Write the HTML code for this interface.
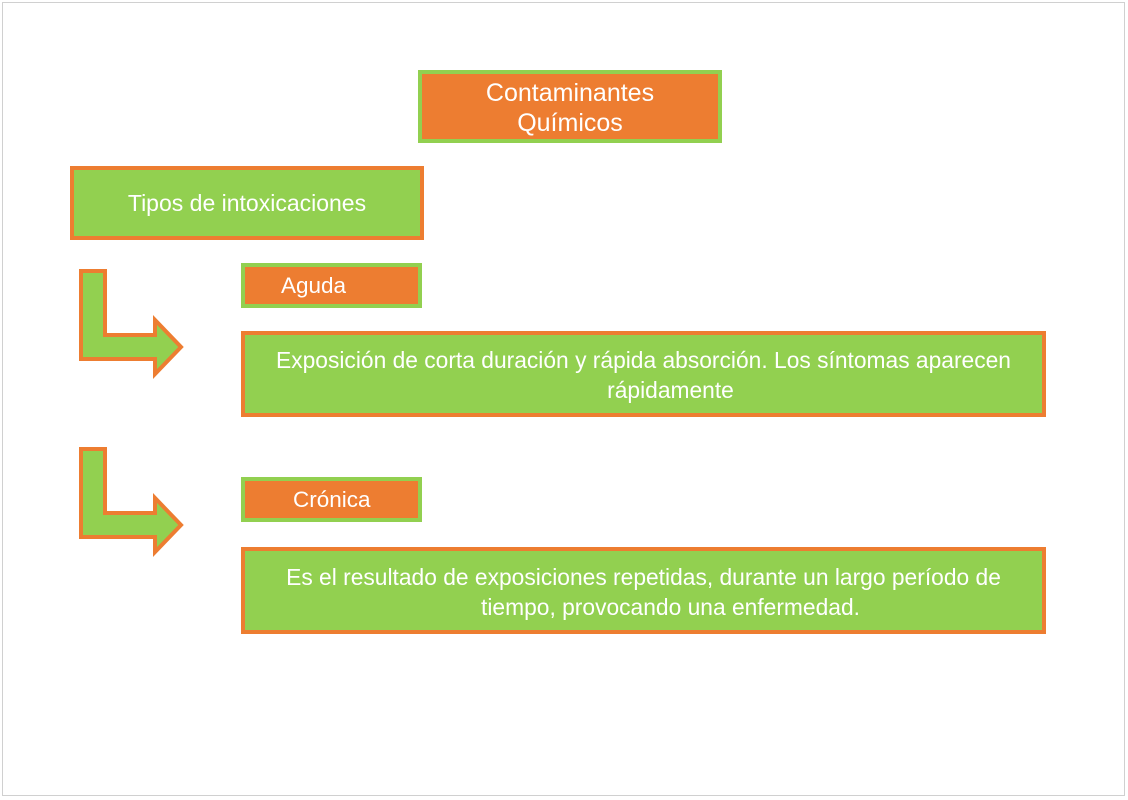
<!DOCTYPE html>
<html><head><meta charset="utf-8"><style>
html,body{margin:0;padding:0;background:#fff;}
body{width:1128px;height:800px;position:relative;overflow:hidden;font-family:"Liberation Sans",sans-serif;}
.frame{position:absolute;left:2px;top:2px;width:1123px;height:794px;border:1px solid #d0d0d0;box-sizing:border-box;}
.b{position:absolute;box-sizing:border-box;border:4px solid;color:#fff;display:flex;flex-direction:column;align-items:center;justify-content:center;text-align:center;line-height:30px;white-space:nowrap;}
.o{background:#ED7D31;border-color:#92D050;}
.g{background:#92D050;border-color:#ED7D31;}
svg{position:absolute;left:0;top:0;}
</style></head><body>
<div class="frame"></div>
<div class="b o" style="left:418px;top:70px;width:304px;height:73px;font-size:25px;padding-top:2px;"><div>Contaminantes</div><div>Químicos</div></div>
<div class="b g" style="left:70px;top:166px;width:354px;height:74px;font-size:23px;">Tipos de intoxicaciones</div>
<div class="b o" style="left:241px;top:263px;width:181px;height:45px;font-size:22.5px;align-items:flex-start;padding-left:36px;">Aguda</div>
<div class="b g" style="left:241px;top:331px;width:805px;height:86px;font-size:22.8px;padding-top:2px;"><div>Exposición de corta duración y rápida absorción. Los síntomas aparecen</div><div style="padding-left:54px;">rápidamente</div></div>
<div class="b o" style="left:241px;top:477px;width:181px;height:45px;font-size:22.5px;align-items:flex-start;padding-left:48px;">Crónica</div>
<div class="b g" style="left:241px;top:547px;width:805px;height:87px;font-size:22.8px;padding-top:2px;"><div>Es el resultado de exposiciones repetidas, durante un largo período de</div><div style="padding-left:54px;">tiempo, provocando una enfermedad.</div></div>
<svg width="1128" height="800">
<g fill="#92D050" stroke="#ED7D31" stroke-width="4" stroke-linejoin="miter">
<path d="M81 271 L105 271 L105 335 L155 335 L155 320 L181 347 L155 374 L155 359 L81 359 Z"/>
<path d="M81 449 L105 449 L105 513 L155 513 L155 498 L181 525 L155 552 L155 537 L81 537 Z"/>
</g>
</svg>
</body></html>
